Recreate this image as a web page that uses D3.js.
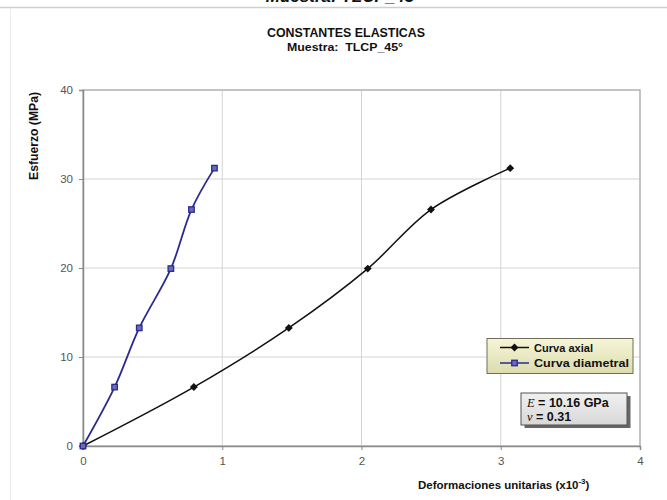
<!DOCTYPE html>
<html>
<head>
<meta charset="utf-8">
<script src="https://cdn.jsdelivr.net/npm/d3@7"></script>
<style>
  html, body { margin: 0; padding: 0; background: #fff; }
  svg { display: block; }
  text { font-family: "Liberation Sans", Arial, sans-serif; }
</style>
</head>
<body>
<svg id="chart" width="667" height="500"></svg>
<script>
// ---- data ----
const axialStrain = [0, 0.796, 1.478, 2.045, 2.499, 3.068];
const axialStress = [0, 6.62, 13.27, 19.93, 26.57, 31.22];
const diamStrain  = [0, 0.227, 0.404, 0.631, 0.779, 0.944];
const diamStress  = [0, 6.62, 13.27, 19.93, 26.57, 31.22];
const xTicks = [0, 1, 2, 3, 4];
const yTicks = [0, 10, 20, 30, 40];
const seriesNames = ["Curva axial", "Curva diametral"];
const titleLines = ["CONSTANTES ELASTICAS", "Muestra:  TLCP_45°"];
const topCaption = "Muestra: TLCP_45";
const yLabel = "Esfuerzo (MPa)";
const statE = "10.16 GPa";
const statNu = "0.31";

const svg = d3.select("#chart");
const W = 667, H = 500;
const m = {left: 83, right: 27, top: 90, bottom: 54};
const x = d3.scaleLinear().domain([0, 4]).range([m.left, W - m.right]);
const y = d3.scaleLinear().domain([0, 40]).range([H - m.bottom, m.top]);

// page frame remnants (caption of the page above, cut by the top edge as in the reference)
svg.append("text").attr("x", 340).attr("y", 1.5).attr("text-anchor", "middle")
  .attr("font-size", 17).attr("font-weight", "bold").attr("font-style", "italic")
  .attr("fill", "#111").text(topCaption);
svg.append("line").attr("x1", 0).attr("x2", W).attr("y1", 7.5).attr("y2", 7.5)
  .attr("stroke", "#cfcfcf").attr("stroke-width", 1.5);
svg.append("line").attr("x1", 10.5).attr("x2", 10.5).attr("y1", 8).attr("y2", H)
  .attr("stroke", "#ececec").attr("stroke-width", 1);

// titles
svg.append("text").attr("x", 346).attr("y", 37).attr("text-anchor", "middle")
  .attr("font-size", 12).attr("font-weight", "bold").attr("fill", "#111")
  .attr("textLength", 158).attr("lengthAdjust", "spacingAndGlyphs")
  .text(titleLines[0]);
svg.append("text").attr("x", 345).attr("y", 51).attr("text-anchor", "middle")
  .attr("font-size", 11.5).attr("font-weight", "bold").attr("fill", "#111")
  .attr("textLength", 116).attr("lengthAdjust", "spacingAndGlyphs")
  .attr("xml:space", "preserve")
  .text(titleLines[1]);

// gridlines
svg.append("g").selectAll("line").data(yTicks.filter(d => d > 0)).join("line")
  .attr("x1", x(0)).attr("x2", x(4)).attr("y1", d => y(d)).attr("y2", d => y(d))
  .attr("stroke", "#d4d4d4").attr("stroke-width", 1);
svg.append("g").selectAll("line").data(xTicks.filter(d => d > 0)).join("line")
  .attr("x1", d => x(d)).attr("x2", d => x(d)).attr("y1", y(0)).attr("y2", y(40))
  .attr("stroke", "#d4d4d4").attr("stroke-width", 1);

// plot border (right/top)
svg.append("rect").attr("x", x(0)).attr("y", y(40))
  .attr("width", x(4) - x(0)).attr("height", y(0) - y(40))
  .attr("fill", "none").attr("stroke", "#b0b0b0").attr("stroke-width", 1.3);

// axes
const xAxis = d3.axisBottom(x).tickValues(xTicks).tickSize(4).tickFormat(d3.format("d"));
const yAxis = d3.axisLeft(y).tickValues(yTicks).tickSize(4).tickFormat(d3.format("d"));
const gx = svg.append("g").attr("transform", `translate(0,${y(0)})`).call(xAxis);
const gy = svg.append("g").attr("transform", `translate(${x(0)},0)`).call(yAxis);
[gx, gy].forEach(g => {
  g.select(".domain").attr("stroke", "#8a8a8a").attr("stroke-width", 1.5);
  g.selectAll(".tick line").attr("stroke", "#8a8a8a");
  g.selectAll(".tick text").attr("font-size", 11.5).attr("fill", "#555")
    .attr("font-family", "'Liberation Sans', Arial, sans-serif");
});
gx.selectAll(".tick text").attr("dy", "1.05em");
gy.selectAll(".tick text").attr("x", -10);

// axis labels
svg.append("text").attr("transform", "translate(38,136) rotate(-90)")
  .attr("text-anchor", "middle").attr("font-size", 12).attr("font-weight", "bold")
  .attr("fill", "#111").attr("textLength", 88).attr("lengthAdjust", "spacingAndGlyphs")
  .text(yLabel);
const xl = svg.append("text").attr("x", 418).attr("y", 489)
  .attr("font-size", 11.5).attr("font-weight", "bold").attr("fill", "#111");
xl.append("tspan").text("Deformaciones unitarias (x10");
xl.append("tspan").attr("font-size", 8).attr("dy", -5).text("-3");
xl.append("tspan").attr("dy", 5).text(")");

// series
const line = d3.line().x(d => x(d[0])).y(d => y(d[1])).curve(d3.curveCatmullRom.alpha(0.5));
const axial = axialStrain.map((v, i) => [v, axialStress[i]]);
const diam = diamStrain.map((v, i) => [v, diamStress[i]]);

svg.append("path").datum(axial).attr("d", line).attr("fill", "none")
  .attr("stroke", "#111").attr("stroke-width", 1.5);
svg.append("path").datum(diam).attr("d", line).attr("fill", "none")
  .attr("stroke", "#2b2b8f").attr("stroke-width", 1.8);

const diamondSym = d3.symbol().type(d3.symbolDiamond2).size(40);
svg.append("g").selectAll("path").data(axial).join("path")
  .attr("d", diamondSym).attr("transform", d => `translate(${x(d[0])},${y(d[1])})`)
  .attr("fill", "#111");
const sq = 5.5;
svg.append("g").selectAll("rect").data(diam).join("rect")
  .attr("x", d => x(d[0]) - sq / 2).attr("y", d => y(d[1]) - sq / 2)
  .attr("width", sq).attr("height", sq)
  .attr("fill", "#6a6ab8").attr("stroke", "#2b2b8f").attr("stroke-width", 1.3);

// legend
const defs = svg.append("defs");
const lg = defs.append("linearGradient").attr("id", "lgY").attr("x1", 0).attr("x2", 0).attr("y1", 0).attr("y2", 1);
lg.append("stop").attr("offset", 0).attr("stop-color", "#f6f6d8");
lg.append("stop").attr("offset", 1).attr("stop-color", "#dcdcae");
const sg = defs.append("linearGradient").attr("id", "lgG").attr("x1", 0).attr("x2", 0).attr("y1", 0).attr("y2", 1);
sg.append("stop").attr("offset", 0).attr("stop-color", "#f0f0f0");
sg.append("stop").attr("offset", 1).attr("stop-color", "#d8d8d8");

svg.append("rect").attr("x", 487).attr("y", 338.5).attr("width", 146).attr("height", 35)
  .attr("fill", "url(#lgY)").attr("stroke", "#6e6e5a").attr("stroke-width", 1);
const legColors = ["#111", "#2b2b8f"];
seriesNames.forEach((name, i) => {
  const ly = 347.5 + i * 15.5;
  svg.append("line").attr("x1", 500).attr("x2", 529).attr("y1", ly).attr("y2", ly)
    .attr("stroke", legColors[i]).attr("stroke-width", 1.5);
  if (i === 0) {
    svg.append("path").attr("d", diamondSym).attr("transform", `translate(514.5,${ly})`).attr("fill", "#111");
  } else {
    svg.append("rect").attr("x", 514.5 - sq / 2).attr("y", ly - sq / 2).attr("width", sq).attr("height", sq)
      .attr("fill", "#6a6ab8").attr("stroke", "#2b2b8f").attr("stroke-width", 1.3);
  }
  svg.append("text").attr("x", 534).attr("y", ly + 4).attr("font-size", 11)
    .attr("font-weight", "bold").attr("fill", "#111")
    .attr("textLength", i === 0 ? 59 : 95).attr("lengthAdjust", "spacingAndGlyphs")
    .text(name);
});

// stats box with shadow
svg.append("rect").attr("x", 524.5).attr("y", 396).attr("width", 106).attr("height", 32)
  .attr("fill", "#666");
svg.append("rect").attr("x", 521).attr("y", 393).attr("width", 106).attr("height", 32)
  .attr("fill", "url(#lgG)").attr("stroke", "#555").attr("stroke-width", 1);
const t1 = svg.append("text").attr("x", 527).attr("y", 406.5).attr("font-size", 12.5)
  .attr("font-weight", "bold").attr("fill", "#111");
t1.append("tspan").attr("font-family", "'Liberation Serif', 'Times New Roman', serif")
  .attr("font-style", "italic").attr("font-weight", "normal").text("E");
t1.append("tspan").text(" = " + statE);
const t2 = svg.append("text").attr("x", 527).attr("y", 420.5).attr("font-size", 12.5)
  .attr("font-weight", "bold").attr("fill", "#111");
t2.append("tspan").attr("font-family", "'Liberation Serif', 'Times New Roman', serif")
  .attr("font-style", "italic").attr("font-weight", "normal").text("ν");
t2.append("tspan").text(" = " + statNu);
</script>
</body>
</html>
